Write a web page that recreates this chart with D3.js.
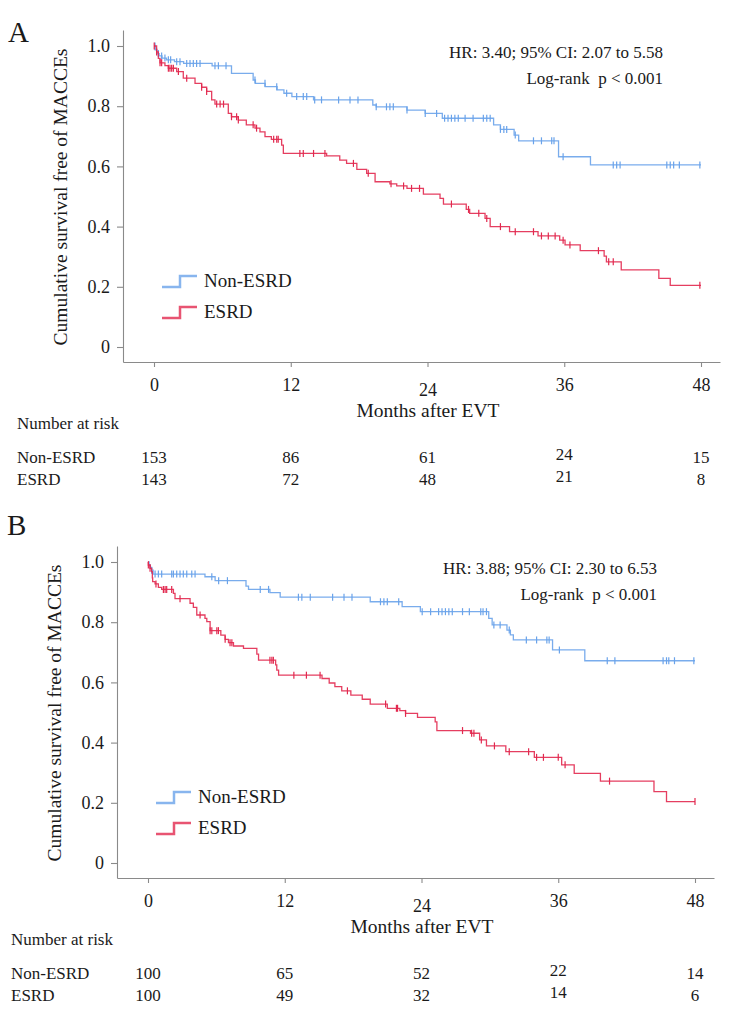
<!DOCTYPE html>
<html>
<head>
<meta charset="utf-8">
<script src="https://cdn.jsdelivr.net/npm/d3@7"></script>
<style>
  body { margin: 0; background: #fff; }
  svg { display: block; }
  text { font-family: "Liberation Serif", "Times New Roman", serif; fill: #1a1a1a; }
</style>
</head>
<body>
<svg width="732" height="1016"></svg>
<script>
"use strict";

const months = [0, 12, 24, 36, 48];
const yTicks = [0, 0.2, 0.4, 0.6, 0.8, 1.0];
const groups = ["Non-ESRD", "ESRD"];
const colors = ["#6aa3ea", "#e2294f"];

// Panel A: [month, survival] after each drop
const aNonEsrdSteps = [
  [0, 1], [0.1, 0.987], [0.25, 0.975], [0.45, 0.967], [0.7, 0.96], [1.1, 0.954],
  [1.8, 0.948], [2.6, 0.942], [5.1, 0.934], [6.8, 0.909], [8.7, 0.887], [8.9, 0.876],
  [9.75, 0.865], [10.8, 0.854], [11.4, 0.843], [12.1, 0.832], [14.0, 0.821],
  [19.2, 0.804], [19.5, 0.798], [22.2, 0.787], [23.8, 0.776], [25.3, 0.76],
  [29.8, 0.738], [30.4, 0.723], [31.6, 0.704], [32.0, 0.685], [35.5, 0.632],
  [38.3, 0.605], [48, 0.605]
];
const aEsrdSteps = [
  [0, 1], [0.23, 0.98], [0.38, 0.959], [0.53, 0.944], [0.96, 0.935], [1.26, 0.926],
  [1.99, 0.915], [2.57, 0.893], [3.6, 0.876], [4.18, 0.863], [4.62, 0.849],
  [5.06, 0.821], [5.35, 0.807], [6.52, 0.776], [6.8, 0.765], [7.4, 0.754],
  [8.1, 0.738], [8.86, 0.727], [9.3, 0.715], [9.74, 0.699], [10.3, 0.69],
  [11.2, 0.671], [11.35, 0.643], [15.15, 0.635], [16.3, 0.621], [16.9, 0.61],
  [17.8, 0.59], [18.66, 0.577], [19.4, 0.549], [20.7, 0.542], [21.3, 0.535],
  [22.2, 0.527], [23.64, 0.508], [25.1, 0.494], [25.4, 0.475], [27.4, 0.457],
  [27.7, 0.444], [29.05, 0.427], [29.5, 0.4], [31.2, 0.383], [33.7, 0.369],
  [35.6, 0.355], [36.07, 0.339], [37.4, 0.32], [39.5, 0.302], [39.7, 0.283],
  [41.0, 0.256], [44.3, 0.228], [45.3, 0.205], [48, 0.205]
];
const aNonEsrdCensored = [
  0.09, 0.38, 0.67, 0.96, 1.26, 1.46, 1.99, 2.28, 2.87, 3.16, 3.45, 3.74, 4.04,
  5.35, 5.65, 6.32, 8.86, 9.74, 10.77, 11.64, 12.52, 13.1, 13.4, 14.1, 14.7, 16.2,
  17.2, 17.9, 19.5, 20.4, 20.7, 21.0, 22.2, 23.8, 24.8, 25.5, 25.8, 26.1, 26.4,
  26.7, 27.3, 28.0, 28.9, 29.2, 29.5, 30.4, 30.7, 30.95, 31.7, 33.3, 34.0, 34.9,
  35.1, 35.9, 40.3, 40.6, 40.9, 45.0, 45.3, 45.6, 46.1, 47.9
];
const aEsrdCensored = [
  0.02, 0.23, 0.53, 0.67, 1.26, 1.4, 1.55, 1.7, 2.14, 2.87, 4.18, 4.62, 5.5, 5.8,
  6.1, 6.8, 7.25, 7.4, 8.7, 9.0, 10.5, 10.77, 10.9, 12.8, 13.1, 14.0, 15.0, 17.5,
  18.8, 20.8, 21.9, 22.6, 23.3, 26.1, 27.6, 28.5, 29.2, 30.4, 31.7, 33.3, 34.0,
  34.6, 35.2, 35.9, 36.5, 39.0, 39.9, 40.3, 47.9
];
const aNonEsrdAtRisk = [153, 86, 61, 24, 15];
const aEsrdAtRisk = [143, 72, 48, 21, 8];
const aStats = ["HR: 3.40; 95% CI: 2.07 to 5.58", "Log-rank  p < 0.001"];

// Panel B
const bNonEsrdSteps = [
  [0, 1], [0.1, 0.99], [0.2, 0.98], [0.32, 0.973], [0.45, 0.96], [5.0, 0.951],
  [5.89, 0.938], [8.6, 0.92], [8.82, 0.909], [10.7, 0.898], [11.6, 0.883],
  [19.5, 0.868], [22.3, 0.852], [23.9, 0.835], [29.9, 0.813], [30.2, 0.791],
  [31.5, 0.774], [31.8, 0.758], [32.06, 0.741], [35.5, 0.708], [38.33, 0.672],
  [48, 0.672]
];
const bEsrdSteps = [
  [0, 1], [0.03, 0.99], [0.18, 0.979], [0.32, 0.968], [0.38, 0.947], [0.41, 0.935],
  [0.62, 0.927], [0.91, 0.916], [1.2, 0.909], [2.23, 0.896], [2.37, 0.878],
  [3.69, 0.863], [3.98, 0.849], [4.28, 0.824], [5.0, 0.813], [5.16, 0.802],
  [5.45, 0.772], [6.39, 0.757], [6.77, 0.743], [7.06, 0.732], [7.5, 0.721],
  [8.38, 0.713], [9.55, 0.694], [9.7, 0.674], [11.2, 0.658], [11.3, 0.641],
  [11.46, 0.624], [15.27, 0.613], [15.9, 0.598], [16.4, 0.586], [17.0, 0.572],
  [17.8, 0.558], [18.8, 0.544], [19.5, 0.528], [21.0, 0.514], [22.1, 0.506],
  [22.6, 0.497], [23.65, 0.484], [25.2, 0.469], [25.35, 0.44], [28.3, 0.431],
  [29.1, 0.409], [29.7, 0.389], [31.4, 0.37], [33.9, 0.351], [36.3, 0.326],
  [37.4, 0.298], [39.7, 0.272], [44.4, 0.237], [45.5, 0.204], [48, 0.204]
];
const bNonEsrdCensored = [
  0.32, 0.62, 0.91, 1.2, 2.08, 2.23, 2.52, 2.81, 3.1, 3.4, 3.84, 4.13, 5.6, 6.2,
  6.97, 9.85, 10.58, 13.2, 13.5, 14.24, 16.2, 17.2, 17.9, 20.4, 20.7, 21.0, 22.0,
  24.06, 24.8, 25.5, 25.8, 26.1, 26.4, 26.7, 27.6, 28.2, 29.2, 29.4, 29.7, 30.35,
  30.9, 31.7, 33.2, 34.1, 35.0, 35.2, 36.1, 40.3, 40.97, 45.2, 45.5, 45.7, 46.2, 47.9
];
const bEsrdCensored = [
  0.03, 0.18, 0.7, 1.35, 1.5, 1.64, 2.08, 2.81, 4.57, 5.45, 5.6, 6.04, 6.18, 6.77,
  7.2, 7.36, 10.7, 10.87, 11.0, 12.8, 13.9, 15.1, 17.5, 20.85, 21.8, 21.9, 22.6,
  27.6, 28.4, 28.6, 29.25, 30.4, 31.7, 33.4, 34.1, 34.7, 36.0, 36.6, 40.5, 48
];
const bNonEsrdAtRisk = [100, 65, 52, 22, 14];
const bEsrdAtRisk = [100, 49, 32, 14, 6];
const bStats = ["HR: 3.88; 95% CI: 2.30 to 6.53", "Log-rank  p < 0.001"];

const panels = [
  { letter: "A", dx: 0, dy: 0, letterX: 8, letterY: 42,
    steps: [aNonEsrdSteps, aEsrdSteps], censored: [aNonEsrdCensored, aEsrdCensored],
    atRisk: [aNonEsrdAtRisk, aEsrdAtRisk], stats: aStats },
  { letter: "B", dx: -6, dy: 516, letterX: 13, letterY: 19,
    steps: [bNonEsrdSteps, bEsrdSteps], censored: [bNonEsrdCensored, bEsrdCensored],
    atRisk: [bNonEsrdAtRisk, bEsrdAtRisk], stats: bStats }
];

const svg = d3.select("svg");
const serif = '"Liberation Serif", "Times New Roman", serif';
const axisColor = "#8a8a8a";

const survAt = (steps, t) => {
  let s = steps[0][1];
  for (const [tt, ss] of steps) {
    if (tt <= t + 1e-9) s = ss;
    else break;
  }
  return s;
};

const render = p => {
  const g = svg.append("g")
    .attr("transform", `translate(${p.dx},${p.dy})`)
    .attr("font-family", serif);

  const x = d3.scaleLinear().domain([0, 48]).range([154, 701]);
  const y = d3.scaleLinear().domain([0, 1]).range([347, 46]);
  // axis frame runs a little past the data range
  const xFrame = x.copy().domain([x.invert(123), x.invert(720)]).range([123, 720]);
  const yFrame = y.copy().domain([y.invert(362), y.invert(30)]).range([362, 30]);

  const xAxisG = g.append("g")
    .attr("transform", `translate(0,362)`)
    .call(d3.axisBottom(xFrame).tickValues(months).tickSize(5).tickSizeOuter(0).tickPadding(11.5));
  const yAxisG = g.append("g")
    .attr("transform", `translate(123,0)`)
    .call(d3.axisLeft(yFrame).tickValues(yTicks).tickSize(6).tickSizeOuter(0).tickPadding(7)
      .tickFormat(d => (d === 0 ? "0" : d3.format(".1f")(d))));

  [xAxisG, yAxisG].forEach(a => {
    a.attr("font-family", serif).attr("font-size", 18);
    a.selectAll("path, line").attr("stroke", axisColor).attr("stroke-width", 1.1);
    a.selectAll("text").attr("fill", "#1a1a1a");
  });
  xAxisG.selectAll(".tick text").filter(d => d === 24).attr("dy", "0.95em");

  g.append("text")
    .attr("transform", `translate(60,197) rotate(-90)`)
    .attr("text-anchor", "middle")
    .attr("dominant-baseline", "central")
    .attr("font-size", 19.5)
    .text("Cumulative survival free of MACCEs");

  g.append("text")
    .attr("x", 428).attr("y", 417)
    .attr("text-anchor", "middle")
    .attr("font-size", 19.5)
    .text("Months after EVT");

  g.append("text")
    .attr("x", p.letterX).attr("y", p.letterY)
    .attr("font-size", 29)
    .text(p.letter);

  // curves
  const line = d3.line().x(d => x(d[0])).y(d => y(d[1])).curve(d3.curveStepAfter);
  p.steps.forEach((steps, i) => {
    g.append("path")
      .datum(steps)
      .attr("fill", "none")
      .attr("stroke", colors[i])
      .attr("stroke-width", 1.3)
      .attr("stroke-opacity", 0.9)
      .attr("d", line);

    g.append("g")
      .selectAll("line")
      .data(p.censored[i])
      .join("line")
      .attr("x1", d => x(d)).attr("x2", d => x(d))
      .attr("y1", d => y(survAt(steps, d)) - 3.5)
      .attr("y2", d => y(survAt(steps, d)) + 3.5)
      .attr("stroke", colors[i])
      .attr("stroke-width", 1.2);
  });

  // stats
  p.stats.forEach((s, i) => {
    g.append("text")
      .attr("x", 663).attr("y", 58 + i * 26)
      .attr("text-anchor", "end")
      .attr("font-size", 17)
      .style("white-space", "pre")
      .text(s);
  });

  // legend
  groups.forEach((name, i) => {
    const ly = 287 + i * 31;
    g.append("path")
      .attr("d", `M162,${ly}H180V${ly - 11}H197`)
      .attr("fill", "none")
      .attr("stroke", colors[i])
      .attr("stroke-opacity", 0.8)
      .attr("stroke-width", 2.5);
    g.append("text")
      .attr("x", 204).attr("y", ly)
      .attr("font-size", 19)
      .text(name);
  });

  // number at risk
  g.append("text")
    .attr("x", 17).attr("y", 429)
    .attr("font-size", 17)
    .text("Number at risk");

  groups.forEach((name, i) => {
    const ry = 463 + i * 22;
    g.append("text")
      .attr("x", 17).attr("y", ry)
      .attr("font-size", 17)
      .text(name);
    g.append("g")
      .selectAll("text")
      .data(p.atRisk[i])
      .join("text")
      .attr("x", (d, j) => x(months[j]))
      .attr("y", (d, j) => (months[j] === 36 ? ry - 3 : ry))
      .attr("text-anchor", "middle")
      .attr("font-size", 17)
      .text(d => d);
  });
};

panels.forEach(render);
</script>
</body>
</html>
